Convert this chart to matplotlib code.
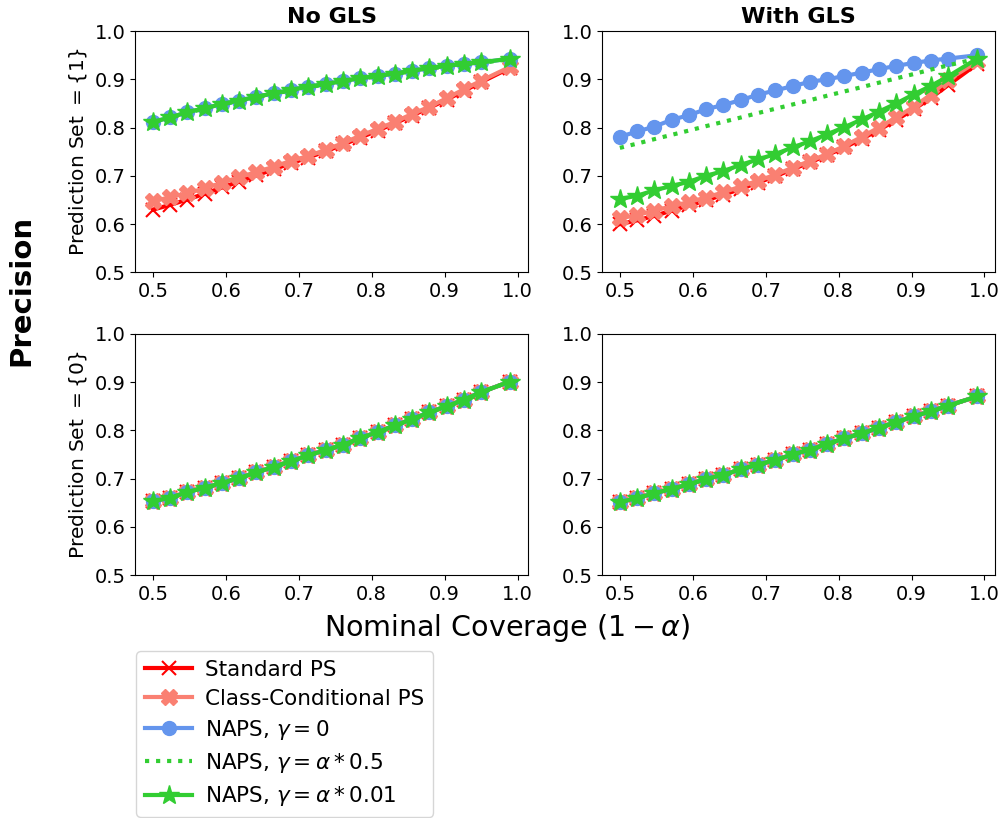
import numpy as np
import matplotlib
matplotlib.use("Agg")
import matplotlib.pyplot as plt

# nominal coverage 1 - alpha
coverage = [0.5, 0.524, 0.547, 0.571, 0.595, 0.618, 0.642, 0.666, 0.689, 0.713,
            0.737, 0.761, 0.784, 0.808, 0.832, 0.855, 0.879, 0.903, 0.926, 0.95, 0.99]

labels = ["Standard PS", "Class-Conditional PS", r"NAPS, $\gamma = 0$",
          r"NAPS, $\gamma = \alpha * 0.5$", r"NAPS, $\gamma = \alpha * 0.01$"]

# Prediction Set = {1}, no GLS
nogls_1_std = [0.630, 0.640, 0.651, 0.663, 0.676, 0.688, 0.701, 0.714, 0.726, 0.738,
               0.751, 0.765, 0.779, 0.794, 0.809, 0.825, 0.841, 0.858, 0.876, 0.894, 0.924]
nogls_1_cc = [0.647, 0.656, 0.664, 0.674, 0.686, 0.697, 0.708, 0.719, 0.731, 0.741,
              0.754, 0.768, 0.783, 0.797, 0.812, 0.828, 0.843, 0.861, 0.879, 0.897, 0.926]
nogls_1_naps0 = [0.812, 0.821, 0.832, 0.840, 0.849, 0.856, 0.864, 0.871, 0.878, 0.885,
                 0.890, 0.897, 0.902, 0.907, 0.912, 0.918, 0.923, 0.928, 0.932, 0.935, 0.943]
nogls_1_naps05 = [0.811, 0.820, 0.831, 0.839, 0.848, 0.855, 0.863, 0.870, 0.877, 0.884,
                  0.889, 0.896, 0.901, 0.906, 0.911, 0.917, 0.922, 0.927, 0.931, 0.934, 0.942]
nogls_1_naps001 = [0.812, 0.821, 0.832, 0.840, 0.849, 0.856, 0.864, 0.871, 0.878, 0.885,
                   0.890, 0.897, 0.902, 0.907, 0.912, 0.918, 0.923, 0.928, 0.932, 0.935, 0.943]

# Prediction Set = {1}, with GLS
gls_1_std = [0.600, 0.608, 0.617, 0.628, 0.639, 0.649, 0.661, 0.673, 0.686, 0.699,
             0.714, 0.728, 0.743, 0.759, 0.777, 0.795, 0.816, 0.838, 0.861, 0.888, 0.932]
gls_1_cc = [0.612, 0.619, 0.628, 0.637, 0.646, 0.655, 0.666, 0.678, 0.690, 0.702,
            0.717, 0.731, 0.745, 0.762, 0.781, 0.800, 0.821, 0.843, 0.868, 0.899, 0.937]
gls_1_naps0 = [0.781, 0.792, 0.802, 0.816, 0.826, 0.838, 0.847, 0.857, 0.868, 0.877,
               0.886, 0.895, 0.900, 0.907, 0.914, 0.921, 0.928, 0.934, 0.939, 0.943, 0.950]
gls_1_naps05 = [0.758, 0.767, 0.776, 0.785, 0.794, 0.803, 0.812, 0.821, 0.830, 0.839,
                0.848, 0.857, 0.866, 0.875, 0.884, 0.893, 0.902, 0.911, 0.920, 0.929, 0.943]
gls_1_naps001 = [0.652, 0.659, 0.670, 0.679, 0.688, 0.700, 0.710, 0.723, 0.734, 0.745,
                 0.759, 0.772, 0.786, 0.801, 0.817, 0.833, 0.850, 0.869, 0.886, 0.906, 0.943]

# Prediction Set = {0}: all methods coincide
nogls_0 = [0.653, 0.660, 0.672, 0.681, 0.691, 0.701, 0.713, 0.724, 0.736, 0.748,
           0.759, 0.770, 0.784, 0.796, 0.810, 0.823, 0.837, 0.850, 0.863, 0.879, 0.901]
gls_0 = [0.651, 0.660, 0.669, 0.679, 0.688, 0.699, 0.708, 0.719, 0.729, 0.738,
         0.750, 0.760, 0.772, 0.783, 0.794, 0.805, 0.817, 0.829, 0.839, 0.851, 0.870]

panels = [
    [nogls_1_std, nogls_1_cc, nogls_1_naps0, nogls_1_naps05, nogls_1_naps001],
    [gls_1_std, gls_1_cc, gls_1_naps0, gls_1_naps05, gls_1_naps001],
    [nogls_0, nogls_0, nogls_0, nogls_0, nogls_0],
    [gls_0, gls_0, gls_0, gls_0, gls_0],
]

styles = [
    dict(color="red", marker="x", linestyle="-", markersize=10, mew=1.5),
    dict(color="salmon", marker="X", linestyle="-", markersize=11),
    dict(color="cornflowerblue", marker="o", linestyle="-", markersize=10),
    dict(color="limegreen", marker=None, linestyle=":"),
    dict(color="limegreen", marker="*", linestyle="-", markersize=15),
]

fig = plt.figure(figsize=(10.04, 8.18), dpi=100)
lefts = [0.1345, 0.5996]
bottoms = [0.667, 0.297]
w, h = 0.3915, 0.295

axes = []
for r in range(2):
    for c in range(2):
        ax = fig.add_axes([lefts[c], bottoms[r], w, h])
        axes.append(ax)

for i, ax in enumerate(axes):
    for s, vals in enumerate(panels[i]):
        ax.plot(coverage, vals, linewidth=3, label=labels[s], **styles[s])
    ax.set_ylim(0.5, 1.0)
    ax.set_yticks([0.5, 0.6, 0.7, 0.8, 0.9, 1.0])
    ax.set_xticks([0.5, 0.6, 0.7, 0.8, 0.9, 1.0])
    ax.tick_params(labelsize=14)

axes[0].set_title("No GLS", fontsize=16, fontweight="bold")
axes[1].set_title("With GLS", fontsize=16, fontweight="bold")
axes[0].set_ylabel(r"Prediction Set $=\{1\}$", fontsize=14.5)
axes[2].set_ylabel(r"Prediction Set $=\{0\}$", fontsize=14.5)

fig.text(0.021, 0.6455, "Precision", rotation=90, fontsize=21, fontweight="bold",
         ha="center", va="center")
fig.text(0.505, 0.232, r"Nominal Coverage $(1-\alpha)$", fontsize=20.5,
         ha="center", va="center")

handles, labs = axes[1].get_legend_handles_labels()
fig.legend(handles, labs, loc="upper left", bbox_to_anchor=(0.125, 0.217),
           fontsize=15.5, handlelength=2.2, handletextpad=0.6, labelspacing=0.42)

fig.savefig("out.png", dpi=100)
